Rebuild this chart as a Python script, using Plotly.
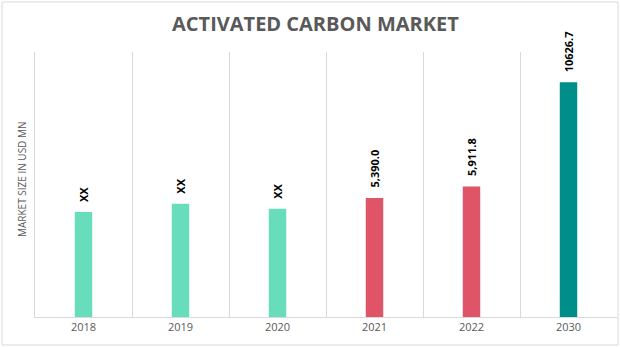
import plotly.graph_objects as go

# Activated carbon market size by year (USD Mn)
years = ["2018", "2019", "2020", "2021", "2022", "2030"]
values = [4750, 5130, 4900, 5390.0, 5911.8, 10626.7]
labels = ["XX", "XX", "XX", "5,390.0", "5,911.8", "10626.7"]
colors = ["#68DDBC", "#68DDBC", "#68DDBC", "#E05468", "#E05468", "#008E8A"]

W, H = 620, 347
L, R, T, B = 35, 3, 52, 30
plot_w = W - L - R
plot_h = H - T - B

fig = go.Figure(
    go.Bar(
        x=years,
        y=values,
        marker=dict(color=colors, line=dict(width=0)),
        width=0.18,
        hoverinfo="skip",
    )
)

# Rotated value labels above each bar (x given as category index)
for i, (v, lab) in enumerate(zip(values, labels)):
    fig.add_annotation(
        x=i, y=v, text=f"<b>{lab}</b>", textangle=-90,
        xanchor="center", yanchor="bottom", yshift=8, showarrow=False,
        font=dict(family="Open Sans", size=11, color="#000000"),
    )

# Chart title
fig.add_annotation(
    x=(315 - L) / plot_w, y=(H - B - 23) / plot_h, xref="paper", yref="paper",
    text="<b>ACTIVATED CARBON MARKET</b>", showarrow=False,
    xanchor="center", yanchor="middle",
    font=dict(family="Open Sans", size=20, color="#595959"),
)

# Y axis title
fig.add_annotation(
    x=(22 - L) / plot_w, y=(H - B - 179) / plot_h, xref="paper", yref="paper",
    text="MARKET SIZE IN USD MN", textangle=-90, showarrow=False,
    xanchor="center", yanchor="middle",
    font=dict(family="Open Sans", size=10, color="#595959"),
)

# Outer frame around the whole chart
fig.add_shape(
    type="rect", xref="paper", yref="paper",
    x0=(2 - L) / plot_w, x1=(618 - L) / plot_w,
    y0=(H - B - 345) / plot_h, y1=(H - B - 2) / plot_h,
    line=dict(color="#D9D9D9", width=1), fillcolor="rgba(0,0,0,0)", layer="below",
)

fig.update_layout(
    width=W, height=H,
    margin=dict(l=L, r=R, t=T, b=B),
    paper_bgcolor="white", plot_bgcolor="white",
    showlegend=False,
    xaxis=dict(
        type="category", tickson="boundaries", showgrid=True,
        gridcolor="#D9D9D9", gridwidth=1,
        showline=True, linecolor="#D9D9D9", linewidth=1,
        ticks="", ticklen=0,
        tickfont=dict(family="Open Sans", size=11, color="#595959"),
        range=[-0.5, 5.5], fixedrange=True,
    ),
    yaxis=dict(
        range=[0, 12000], showgrid=False, zeroline=False,
        showline=True, linecolor="#D9D9D9", linewidth=1,
        showticklabels=False, ticks="", fixedrange=True,
    ),
)

fig.write_html("out.html")
